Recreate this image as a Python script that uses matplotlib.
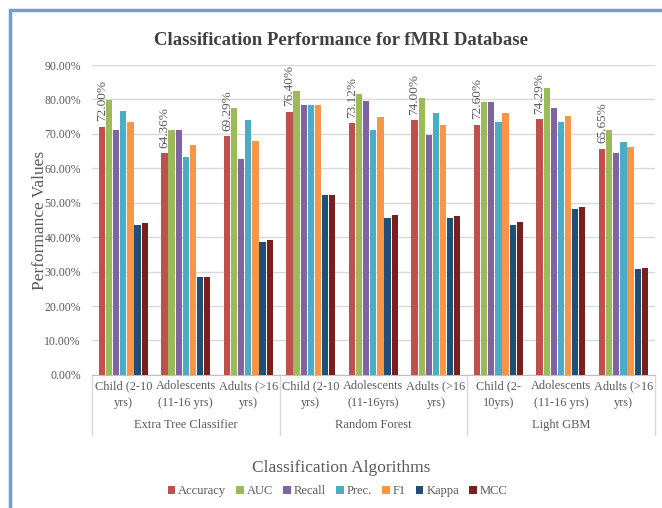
import numpy as np
import matplotlib.pyplot as plt
from matplotlib.patches import Rectangle
from matplotlib.transforms import blended_transform_factory

plt.rcParams['font.family'] = ['Liberation Serif', 'DejaVu Serif']

categorias = ["Child (2-10\nyrs)", "Adolescents\n(11-16 yrs)", "Adults (>16\nyrs)",
              "Child (2-10\nyrs)", "Adolescents\n(11-16yrs)", "Adults (>16\nyrs)",
              "Child (2-\n10yrs)", "Adolescents\n(11-16 yrs)", "Adults (>16\nyrs)"]
grupos = ["Extra Tree Classifier", "Random Forest", "Light GBM"]

metricas = ["Accuracy", "AUC", "Recall", "Prec.", "F1", "Kappa", "MCC"]
colores = ["#C0504D", "#9BBB59", "#8064A2", "#4BACC6", "#F79646", "#1F4E79", "#7B1E1E"]

accuracy = [72.00, 64.36, 69.29, 76.40, 73.12, 74.00, 72.60, 74.29, 65.65]
auc = [79.8, 71.0, 77.6, 82.5, 81.5, 80.5, 79.3, 83.2, 71.0]
recall = [71.0, 71.0, 62.7, 78.3, 79.6, 69.6, 79.3, 77.6, 64.5]
prec = [76.6, 63.2, 73.9, 78.3, 71.0, 76.2, 73.4, 73.4, 67.6]
f1 = [73.4, 66.8, 67.8, 78.3, 74.9, 72.5, 76.1, 75.2, 66.1]
kappa = [43.6, 28.5, 38.6, 52.2, 45.7, 45.7, 43.6, 48.2, 30.9]
mcc = [44.1, 28.5, 39.3, 52.2, 46.5, 46.2, 44.5, 48.8, 31.1]

series = [accuracy, auc, recall, prec, f1, kappa, mcc]

gris = "#595959"

fig = plt.figure(figsize=(6.62, 5.08), dpi=100)
ax = fig.add_axes([0.139, 0.262, 0.850, 0.610])

# marco azul del grafico
fig.patches.append(Rectangle((10 / 662, -0.1), 1.2, 1 - 10 / 508 + 0.1,
                             transform=fig.transFigure, fill=False,
                             edgecolor="#6A9FD8", linewidth=2.5))

x = np.arange(len(categorias))
paso = 0.114
ancho = 0.10
for i, (nombre, valores, color) in enumerate(zip(metricas, series, colores)):
    pos = x + (i - 3) * paso
    ax.bar(pos, valores, width=ancho, color=color, label=nombre, zorder=3)
    if nombre == "Accuracy":
        for px, v in zip(pos, valores):
            ax.annotate(f"{v:.2f}%", (px, v), xytext=(0, 4), textcoords="offset points",
                        rotation=90, ha="center", va="bottom", fontsize=9.5, color=gris)

ax.set_xlim(-0.5, 8.5)
ax.set_ylim(0, 90)
ax.set_yticks(np.arange(0, 91, 10))
ax.set_yticklabels([f"{t:.2f}%" for t in np.arange(0, 91, 10)], fontsize=8.5, color=gris)
ax.yaxis.grid(True, color="#D9D9D9", linewidth=1, zorder=0)
ax.tick_params(axis="y", length=0, pad=8)
for s in ["top", "right", "left"]:
    ax.spines[s].set_visible(False)
ax.spines["bottom"].set_color("#BFBFBF")

ax.set_xticks(x)
ax.set_xticklabels(categorias, fontsize=8.8, color=gris, linespacing=1.45)
ax.tick_params(axis="x", length=0, pad=4)

trans = blended_transform_factory(ax.transData, ax.transAxes)
for sep in [-0.5, 2.5, 5.5, 8.5]:
    ax.plot([sep, sep], [0, -0.195], transform=trans, color="#D9D9D9",
            linewidth=1, clip_on=False)
for g, nombre in enumerate(grupos):
    ax.text(3 * g + 1, -0.162, nombre, transform=trans, ha="center", va="center",
            fontsize=9, color=gris)

ax.set_ylabel("Performance Values", fontsize=12.5, color=gris)
ax.yaxis.set_label_coords(-0.079, 0.5)
fig.text(0.515, 0.079, "Classification Algorithms", ha="center", va="center",
         fontsize=12.5, color=gris)
fig.text(0.515, 0.921, "Classification Performance for fMRI Database", ha="center",
         va="center", fontsize=13.5, fontweight="bold", color="#404040")

fig.legend(loc="center", bbox_to_anchor=(0.51, 0.033), ncol=7, frameon=False,
           fontsize=9, handlelength=0.6, handleheight=0.6, handletextpad=0.25,
           columnspacing=0.8, labelcolor=gris)

fig.savefig("out.png", dpi=100)
plt.close(fig)
